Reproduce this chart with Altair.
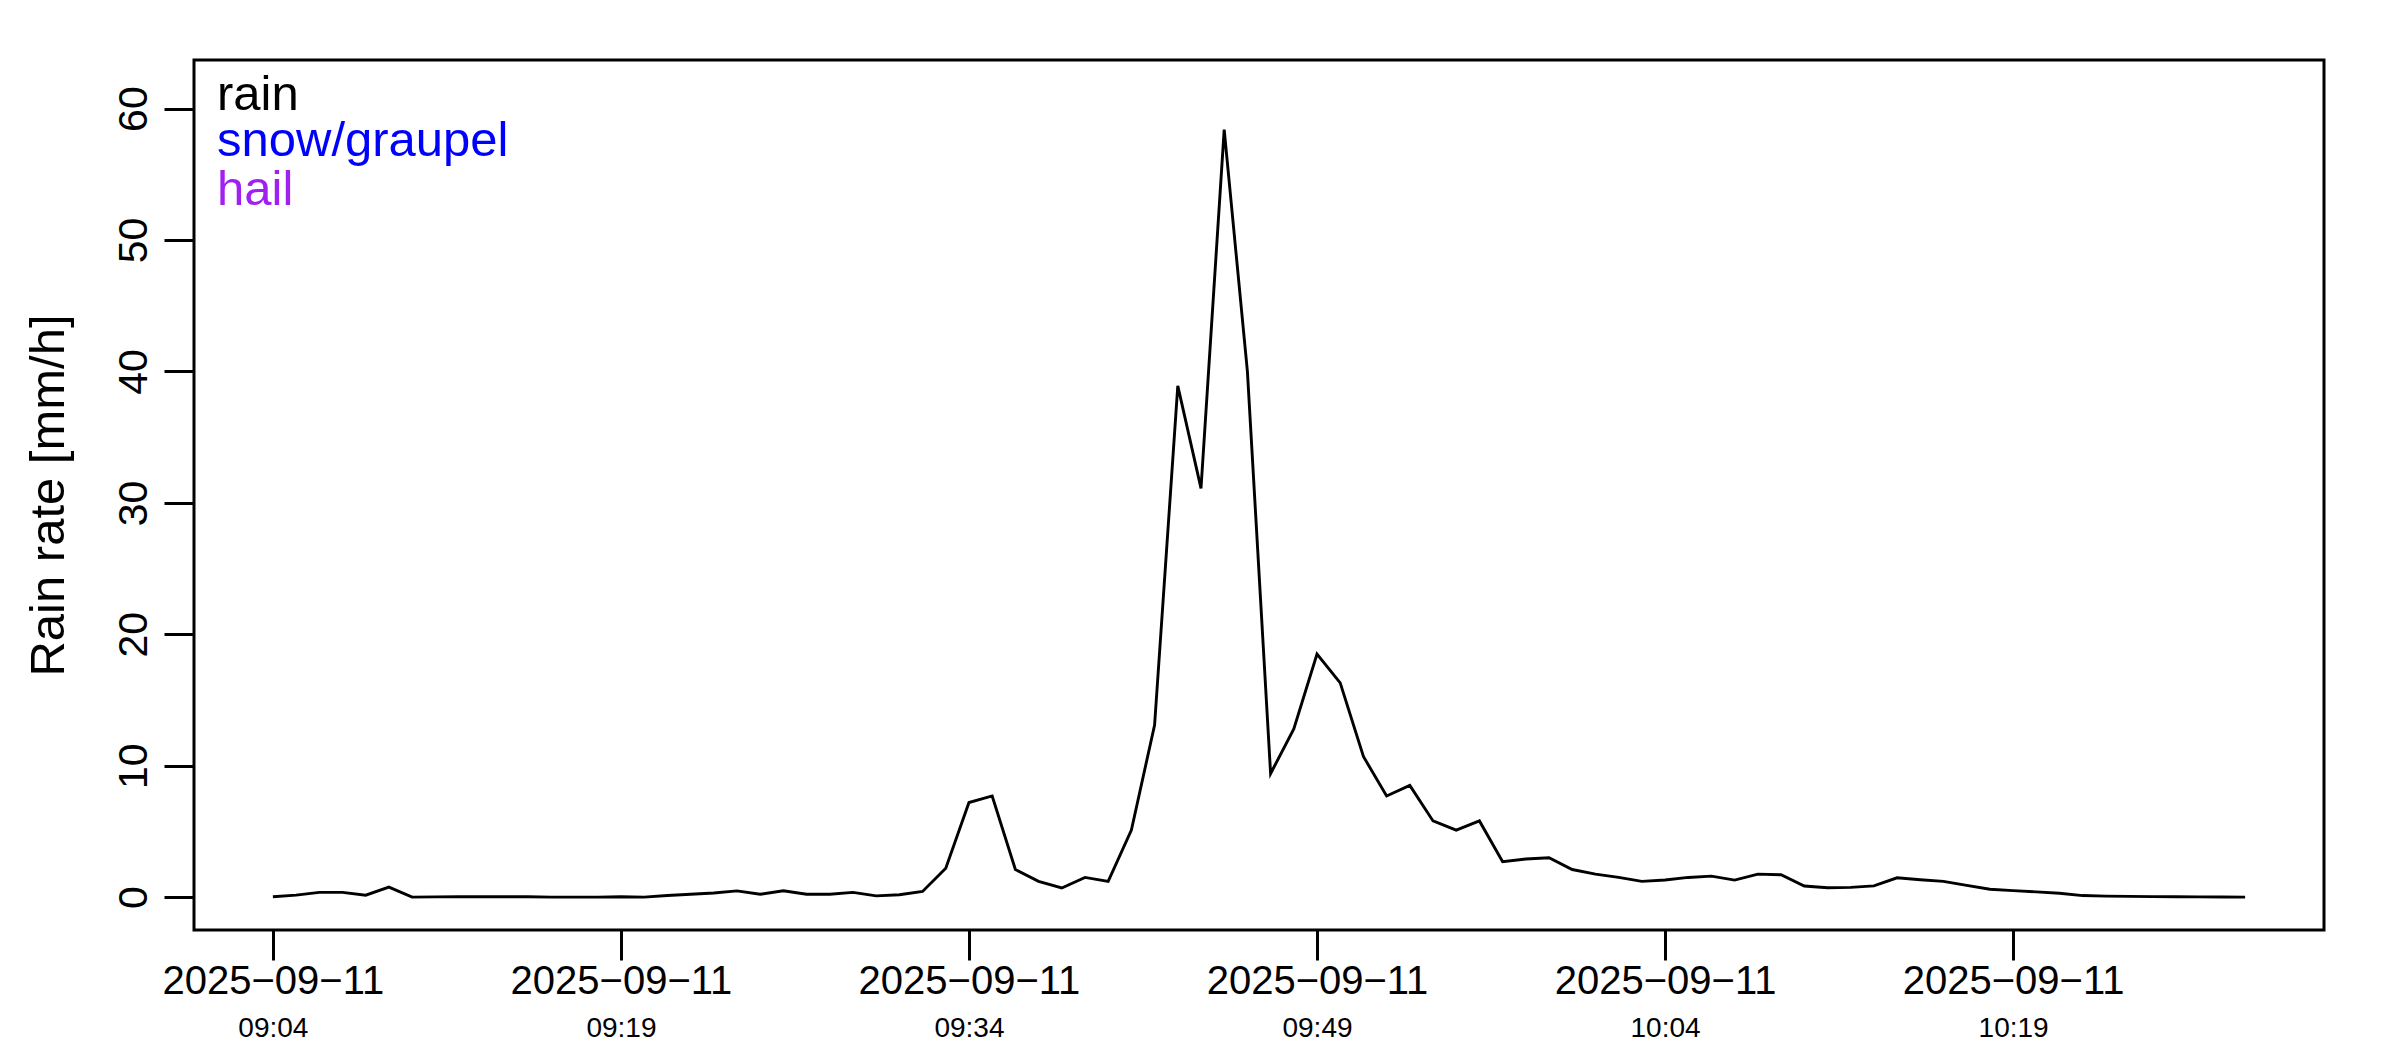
import altair as alt
import pandas as pd

# ---- data ----
start_time = "2025-09-11 09:04"
n_minutes = 86
rain_rate = [
    0.03, 0.15, 0.36, 0.36, 0.15, 0.76, 0.0, 0.02, 0.03, 0.03,
    0.03, 0.03, 0.0, 0.0, 0.0, 0.03, 0.0, 0.12, 0.22, 0.32,
    0.48, 0.22, 0.48, 0.22, 0.22, 0.36, 0.1, 0.18, 0.43, 2.2,
    7.2, 7.7, 2.1, 1.2, 0.7, 1.5, 1.2, 5.1, 13.1, 38.9,
    31.1, 58.4, 40.0, 9.4, 12.8, 18.5, 16.3, 10.7, 7.7, 8.5,
    5.8, 5.1, 5.8, 2.7, 2.9, 3.0, 2.1, 1.75, 1.5, 1.2,
    1.3, 1.5, 1.6, 1.3, 1.75, 1.7, 0.85, 0.72, 0.74, 0.86,
    1.47, 1.32, 1.2, 0.9, 0.6, 0.5, 0.4, 0.3, 0.12, 0.08,
    0.06, 0.04, 0.03, 0.02, 0.01, 0.0,
]
tick_times = ["09:04", "09:19", "09:34", "09:49", "10:04", "10:19"]
y_ticks = [0, 10, 20, 30, 40, 50, 60]
legend_labels = ["rain", "snow/graupel", "hail"]
legend_colors = ["#000000", "#0000FF", "#A020F0"]

times = pd.date_range(start_time, periods=n_minutes, freq="min")
df = pd.DataFrame({"time": times.strftime("%Y-%m-%dT%H:%M:%S"), "rain": rain_rate})


def dt(hm, sec=0):
    h, m = hm.split(":")
    return alt.DateTime(year=2025, month=9, date=11, hours=int(h), minutes=int(m), seconds=sec)


x_domain = [dt("09:00", 36), dt("10:32", 24)]
x_ticks = [dt(t) for t in tick_times]
FONT = "Liberation Sans"

x_scale = alt.Scale(domain=x_domain, nice=False)
y_scale = alt.Scale(domain=[-2.5, 63.7], nice=False, zero=False)

y_axis = alt.Axis(
    values=y_ticks,
    title="Rain rate [mm/h]",
    titleFont=FONT,
    titleFontSize=49,
    titleFontWeight="normal",
    titleColor="black",
    titleAngle=270,
    titleAlign="center",
    titleBaseline="alphabetic",
    titleX=-131,
    titleY=435,
    domain=False,
    grid=False,
    tickSize=30,
    tickWidth=3,
    tickColor="black",
    labelFontSize=41,
    labelFont=FONT,
    labelColor="black",
    labelAngle=270,
    labelAlign="center",
    labelBaseline="alphabetic",
    labelPadding=18,
    labelFlush=False,
    labelOverlap=False,
    labelLimit=0,
)

line = alt.Chart(df).mark_line(color="black", strokeWidth=2.9).encode(
    x=alt.X(
        "time:T",
        scale=x_scale,
        axis=alt.Axis(
            orient="bottom",
            values=x_ticks,
            format="%Y\u2212%m\u2212%d",
            title=None,
            domain=False,
            grid=False,
            ticks=True,
            tickSize=30,
            tickWidth=3,
            tickColor="black",
            labelFontSize=40,
            labelFont=FONT,
            labelColor="black",
            labelBaseline="alphabetic",
            labelPadding=33,
            labelFlush=False,
            labelOverlap=False,
            labelLimit=0,
        ),
    ),
    y=alt.Y("rain:Q", scale=y_scale, axis=y_axis),
)

time_axis_layer = alt.Chart(df).mark_line(strokeOpacity=0).encode(
    x=alt.X(
        "time:T",
        scale=x_scale,
        axis=alt.Axis(
            orient="bottom",
            values=x_ticks,
            format="%H:%M",
            title=None,
            domain=False,
            grid=False,
            ticks=True,
            tickSize=30,
            tickOpacity=0,
            labelFontSize=28,
            labelFont=FONT,
            labelColor="black",
            labelBaseline="alphabetic",
            labelPadding=76,
            labelFlush=False,
            labelOverlap=False,
            labelLimit=0,
        ),
    ),
    y=alt.Y("rain:Q", scale=y_scale, axis=y_axis),
)

legend_layers = []
for lbl, col, ypos in zip(legend_labels, legend_colors, [50, 96, 145]):
    legend_layers.append(
        alt.Chart(pd.DataFrame({"label": [lbl]}))
        .mark_text(align="left", baseline="alphabetic", fontSize=49, font=FONT, color=col)
        .encode(text="label:N", x=alt.value(23), y=alt.value(ypos))
    )

chart = (
    alt.layer(line, time_axis_layer, *legend_layers)
    .resolve_axis(x="independent")
    .properties(
        width=2130,
        height=870,
        padding={"left": 186, "top": 52, "right": 60, "bottom": 112},
        autosize=alt.AutoSizeParams(type="none"),
        background="white",
    )
    .configure(font=FONT, view=alt.ViewConfig(stroke="black", strokeWidth=3))
)

chart.save("out.html", embed_options={"renderer": "svg", "actions": False})
